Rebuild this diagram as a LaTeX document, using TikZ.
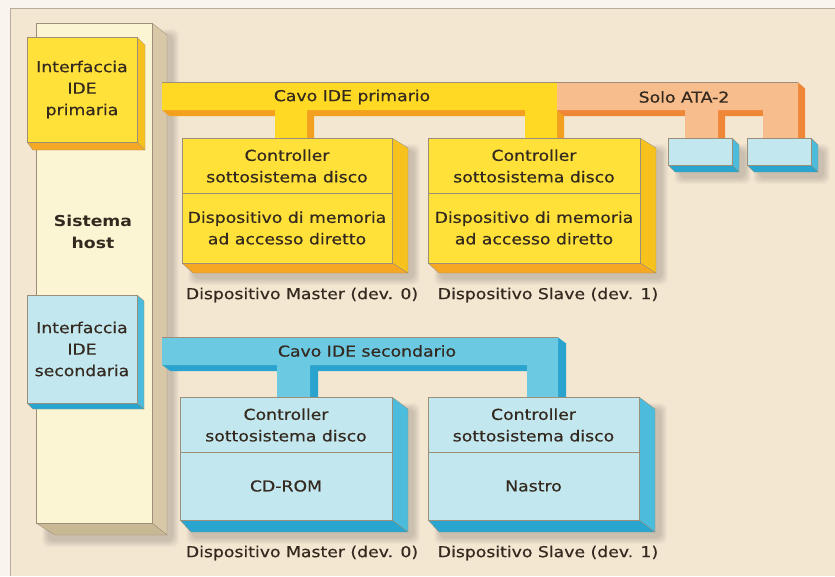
\documentclass[tikz,border=0pt]{standalone}
\usepackage{fontspec}
\setmainfont{DejaVu Sans}[FakeStretch=1.15]
\newfontfamily\labelfont{DejaVu Sans}[FakeStretch=1.15, FakeBold=0.5]
\usetikzlibrary{calc}

\definecolor{paper}{HTML}{F9F5EE}
\definecolor{board}{HTML}{F4E7D2}
\definecolor{frameline}{HTML}{B9AC98}
\definecolor{ink}{HTML}{33291F}
\definecolor{edge}{HTML}{9C8E78}
\definecolor{hostfront}{HTML}{FCF5D4}
\definecolor{hostside}{HTML}{D8C8A8}
\definecolor{hostbot}{HTML}{C9B894}
\definecolor{yelfront}{HTML}{FFE13A}
\definecolor{yelside}{HTML}{F7C21E}
\definecolor{yelbot}{HTML}{F5A823}
\definecolor{cabyel}{HTML}{FFD923}
\definecolor{cabyelside}{HTML}{F2A01E}
\definecolor{atafront}{HTML}{F8BD8C}
\definecolor{ataside}{HTML}{EE8838}
\definecolor{bluefront}{HTML}{C3E7EF}
\definecolor{blueside}{HTML}{4BBCDB}
\definecolor{bluebot}{HTML}{28A6D0}
\definecolor{cabblue}{HTML}{6CC9E2}
\definecolor{cabblueside}{HTML}{2AA4CE}

% right and bottom faces of an extruded box: node, dx, dy, bottom-left dx, side colour, bottom colour
\newcommand\boxsides[6]{%
  \filldraw[face, fill=#5] (#1.north east) -- ++(#2,#3) -- ([shift={(#2,#3)}]#1.south east) -- (#1.south east) -- cycle;
  \filldraw[face, fill=#6] (#1.south west) -- (#1.south east) -- ([shift={(#2,#3)}]#1.south east) -- ([shift={(#4,#3)}]#1.south west) -- cycle;
}
% soft shadow behind a box
\newcommand\softshadow[3]{%
  \foreach \i in {1,...,7} {
    \fill[black, opacity=0.022, rounded corners=6pt]
      ([shift={(13-\i,13-\i)}]#1.north west) rectangle ([shift={(#2+5+\i,#3+5+\i)}]#1.south east);
  }
}
% extruded cable: offset, side colour, outline path
\newcommand\cable[4]{%
  \foreach \k in {0,...,12} {
    \fill[#3, shift={(\k*#1/12,\k*#2/12)}] #4;
  }
}

\begin{document}
\begin{tikzpicture}[x=1pt, y=-1pt,
  face/.style={draw=edge, line width=0.35pt},
  txt/.style={text=ink, font=\labelfont\fontsize{15}{21.5}\selectfont, align=center, inner sep=0pt},
  boldtxt/.style={txt, font=\fontsize{15}{21.5}\selectfont\bfseries},
  frontbox/.style={face, anchor=north west, inner sep=0pt, outer sep=0pt},
  divider/.style={draw=edge, line width=0.4pt},
]
\useasboundingbox (0,0) rectangle (835,576);
\fill[paper] (0,0) rectangle (835,576);
\fill[board] (10,8) rectangle (835,576);
\draw[frameline, line width=0.6pt] (835,8) -- (10,8) -- (10,576);

% ---- front faces (placed first so that shadows can refer to them) ----
\path
  node[frontbox, minimum width=116, minimum height=500] (host) at (36,23) {}
  node[frontbox, minimum width=110, minimum height=105] (ip) at (27,37) {}
  node[frontbox, minimum width=110, minimum height=108] (is) at (27,295) {}
  node[frontbox, minimum width=210, minimum height=125] (m1) at (182,138) {}
  node[frontbox, minimum width=212, minimum height=125] (s1) at (428,138) {}
  node[frontbox, minimum width=212, minimum height=123] (m2) at (180,397) {}
  node[frontbox, minimum width=211, minimum height=123] (s2) at (428,397) {}
  node[frontbox, minimum width=64, minimum height=27] (a1) at (668,138) {}
  node[frontbox, minimum width=64, minimum height=27] (a2) at (747,138) {};

% ---- shadows ----
\softshadow{host}{15}{12}
\softshadow{m1}{16}{10}
\softshadow{s1}{16}{10}
\softshadow{m2}{16}{12}
\softshadow{s2}{16}{12}
\softshadow{a1}{7}{7}
\softshadow{a2}{7}{7}

% ---- host system ----
\boxsides{host}{15}{12}{19}{hostside}{hostbot}
\filldraw[face, fill=hostfront] (host.north west) rectangle (host.south east);
\node[boldtxt] (hostlbl) at (93,232) {Sistema\\host};

% ---- IDE interfaces ----
\boxsides{ip}{8}{8}{6}{yelside}{yelbot}
\filldraw[face, fill=yelfront] (ip.north west) rectangle (ip.south east);
\node[txt] (iplbl) at (ip.center) {Interfaccia\\IDE\\primaria};

\boxsides{is}{7}{6}{6}{blueside}{bluebot}
\filldraw[face, fill=bluefront] (is.north west) rectangle (is.south east);
\node[txt] (islbl) at (is.center) {Interfaccia\\IDE\\secondaria};

% ---- primary cable ----
\def\yelcab{(162,82) -- (557,82) -- (557,138) -- (525,138) -- (525,110) -- (307,110) -- (307,138) -- (275,138) -- (275,110) -- (162,110) -- cycle}
\cable{7}{6}{cabyelside}{\yelcab}
\fill[cabyel] \yelcab;
\draw[edge, line width=0.3pt] (162,82) -- (557,82);

% ---- ATA-2 extension ----
\def\atacab{(557,82) -- (798,82) -- (798,138) -- (763,138) -- (763,110) -- (718,110) -- (718,138) -- (685,138) -- (685,110) -- (557,110) -- cycle}
\cable{7}{6}{ataside}{\atacab}
\fill[atafront] \atacab;
\draw[edge, line width=0.3pt] (557,82) -- (798,82);

% ---- secondary cable ----
\def\bluecab{(162,337) -- (558,337) -- (558,397) -- (527,397) -- (527,365) -- (310,365) -- (310,397) -- (277,397) -- (277,365) -- (162,365) -- cycle}
\cable{8}{6}{cabblueside}{\bluecab}
\fill[cabblue] \bluecab;
\draw[edge, line width=0.3pt] (162,337) -- (558,337);

\node[txt] (cab1) at (352,97) {Cavo IDE primario};
\node[txt] (cab2) at (684,97) {Solo ATA-2};
\node[txt] (cab3) at (367,351) {Cavo IDE secondario};

% ---- primary devices ----
\boxsides{m1}{16}{10}{11}{yelside}{yelbot}
\filldraw[face, fill=yelfront] (m1.north west) rectangle (m1.south east);
\draw[divider] ([yshift=-55pt]m1.north west) -- ([yshift=-55pt]m1.north east);
\node[txt] (m1c) at ([yshift=-28pt]m1.north) {Controller\\sottosistema disco};
\node[txt] (m1d) at ([yshift=-90pt]m1.north) {Dispositivo di memoria\\ad accesso diretto};

\boxsides{s1}{16}{10}{11}{yelside}{yelbot}
\filldraw[face, fill=yelfront] (s1.north west) rectangle (s1.south east);
\draw[divider] ([yshift=-55pt]s1.north west) -- ([yshift=-55pt]s1.north east);
\node[txt] (s1c) at ([yshift=-28pt]s1.north) {Controller\\sottosistema disco};
\node[txt] (s1d) at ([yshift=-90pt]s1.north) {Dispositivo di memoria\\ad accesso diretto};

% ---- ATA-2 only devices ----
\boxsides{a1}{7}{7}{7}{blueside}{bluebot}
\filldraw[face, fill=bluefront] (a1.north west) rectangle (a1.south east);
\boxsides{a2}{7}{7}{7}{blueside}{bluebot}
\filldraw[face, fill=bluefront] (a2.north west) rectangle (a2.south east);

% ---- secondary devices ----
\boxsides{m2}{16}{12}{11}{blueside}{bluebot}
\filldraw[face, fill=bluefront] (m2.north west) rectangle (m2.south east);
\draw[divider] ([yshift=-55pt]m2.north west) -- ([yshift=-55pt]m2.north east);
\node[txt] (m2c) at ([yshift=-28pt]m2.north) {Controller\\sottosistema disco};
\node[txt] (m2d) at ([yshift=-89pt]m2.north) {CD-ROM};

\boxsides{s2}{16}{12}{11}{blueside}{bluebot}
\filldraw[face, fill=bluefront] (s2.north west) rectangle (s2.south east);
\draw[divider] ([yshift=-55pt]s2.north west) -- ([yshift=-55pt]s2.north east);
\node[txt] (s2c) at ([yshift=-28pt]s2.north) {Controller\\sottosistema disco};
\node[txt] (s2d) at ([yshift=-89pt]s2.north) {Nastro};

% ---- device captions ----
\node[txt] (m1lbl) at (302,295) {Dispositivo Master (dev. 0)};
\node[txt] (s1lbl) at (548,295) {Dispositivo Slave (dev. 1)};
\node[txt] (m2lbl) at (302,553) {Dispositivo Master (dev. 0)};
\node[txt] (s2lbl) at (548,553) {Dispositivo Slave (dev. 1)};
\end{tikzpicture}
\end{document}
